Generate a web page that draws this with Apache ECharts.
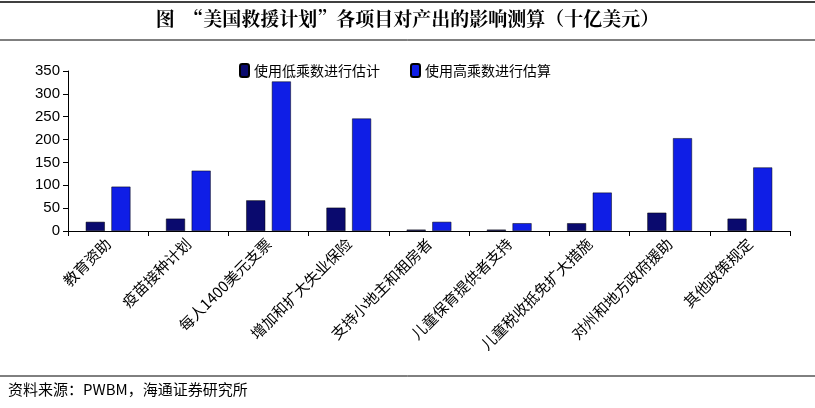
<!DOCTYPE html>
<html><head><meta charset="utf-8">
<script src="https://cdn.jsdelivr.net/npm/echarts@6/dist/echarts.min.js"></script>
<style>body{margin:0;background:#fff}#c{width:815px;height:408px}</style>
</head><body><div id="c"></div>
<script>
var categories = ["教育资助", "疫苗接种计划", "每人1400美元支票", "增加和扩大失业保险", "支持小地主和租房者", "儿童保育提供者支持", "儿童税收抵免扩大措施", "对州和地方政府援助", "其他政策规定"];
var lowValues = [20, 27, 67, 51, 3, 3, 17, 40, 27];
var highValues = [97, 132, 327, 246, 20, 17, 84, 203, 139];

var chart = echarts.init(document.getElementById("c"));
chart.setOption({
    animation: false,
    graphic: [
        { type: "line", shape: { x1: 0, y1: 2, x2: 815, y2: 2 }, style: { stroke: "#000", lineWidth: 1.5 } },
        { type: "line", shape: { x1: 0, y1: 40, x2: 815, y2: 40 }, style: { stroke: "#000", lineWidth: 1 } },
        { type: "text", left: "center", top: 9, style: { text: "图  “美国救援计划”各项目对产出的影响测算（十亿美元）", font: "bold 19px 'Noto Serif CJK SC','Noto Sans CJK SC'", fill: "#000" } },
        { type: "line", shape: { x1: 0, y1: 376, x2: 815, y2: 376 }, style: { stroke: "#000", lineWidth: 1 } },
        { type: "text", left: 8, top: 382, style: { text: "资料来源：PWBM，海通证券研究所", font: "15px 'Noto Sans CJK SC'", fill: "#000" } }
    ],
    legend: {
        top: 58, left: 234, itemWidth: 9, itemHeight: 13, itemGap: 30,
        textStyle: { fontFamily: "Noto Sans CJK SC", fontSize: 14, color: "#000" },
        data: ["使用低乘数进行估计", "使用高乘数进行估算"]
    },
    grid: { left: 68, right: 25, top: 71, bottom: 177 },
    xAxis: {
        type: "category", data: categories,
        axisLine: { lineStyle: { color: "#000" } },
        axisTick: { show: true, interval: 0, lineStyle: { color: "#000" } },
        axisLabel: { interval: 0, rotate: 45, color: "#000", fontSize: 15, fontFamily: "Noto Sans CJK SC", margin: 10 }
    },
    yAxis: {
        type: "value", min: 0, max: 350, interval: 50,
        splitLine: { show: false },
        axisLine: { show: true, lineStyle: { color: "#000" } },
        axisTick: { show: true, lineStyle: { color: "#000" } },
        axisLabel: { color: "#000", fontSize: 15, fontFamily: "Liberation Sans" }
    },
    series: [
        { name: "使用低乘数进行估计", type: "bar", data: lowValues, barWidth: 19, barGap: "35%",
          itemStyle: { color: "#0a0a6e", borderColor: "#000", borderWidth: 0.5 } },
        { name: "使用高乘数进行估算", type: "bar", data: highValues, barWidth: 19,
          itemStyle: { color: "#0f1ee6", borderColor: "#000", borderWidth: 0.5 } }
    ]
});
</script></body></html>
